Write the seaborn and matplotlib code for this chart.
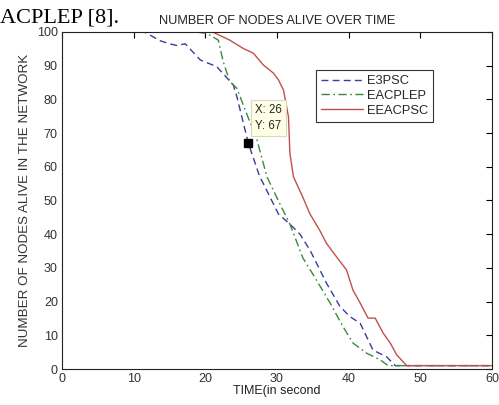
import seaborn as sns
import matplotlib
matplotlib.use("Agg")
import matplotlib.pyplot as plt
import pandas as pd

## Data
t_e3psc = [0, 11.5, 13.7, 15, 16, 17.2, 19.3, 21.6, 23.9, 24.4, 26, 27.6, 28.1, 30.2, 31.8,
           33.2, 34.6, 36.9, 38.8, 40.2, 41.6, 42.5, 43.4, 45.3, 46.5, 60]
v_e3psc = [100, 100, 97.4, 96.5, 96, 96.5, 91.7, 89.7, 84.3, 80.8, 67, 57, 55, 46, 43,
           40, 35.3, 25.5, 18.5, 15.5, 13.6, 9.6, 5.6, 3.6, 1, 1]

t_eacplep = [0, 18.6, 20.2, 21.8, 22.5, 23.4, 24.4, 25.3, 26.2, 27.2, 28.6, 30.4, 31.8,
             33.6, 35.5, 37.4, 39.2, 40.6, 42.5, 44.4, 45.5, 60]
v_eacplep = [100, 100, 99.6, 97.6, 91.2, 85.3, 83.3, 78.3, 73.4, 68, 57, 49, 43,
             33, 26.4, 19.6, 12.6, 7.7, 4.7, 2.7, 1, 1]

t_eeacpsc = [0, 21, 23.4, 25.3, 26.7, 28.1, 29.5, 30.2, 30.9, 31.6, 31.8, 32.3, 33.6, 34.6,
             36, 36.9, 38.3, 39.7, 40.6, 41.6, 42.7, 43.7, 44.8, 45.8, 46.7, 48.1, 60]
v_eeacpsc = [100, 100, 97.6, 95.1, 93.7, 90.2, 87.8, 85.8, 82.8, 74.9, 64, 57, 51, 46,
             41, 37.3, 33.3, 29.4, 23.4, 19.6, 15.1, 15.1, 10.7, 7.7, 4.2, 1, 1]

tip_x, tip_y = 26, 67

## Long dataframe for seaborn
df = pd.concat([
    pd.DataFrame({'time': t_e3psc, 'alive': v_e3psc, 'protocol': 'E3PSC'}),
    pd.DataFrame({'time': t_eacplep, 'alive': v_eacplep, 'protocol': 'EACPLEP'}),
    pd.DataFrame({'time': t_eeacpsc, 'alive': v_eeacpsc, 'protocol': 'EEACPSC'}),
], ignore_index=True)

colors = {'E3PSC': '#3c3c9c', 'EACPLEP': '#3a8a3a', 'EEACPSC': '#c0504d'}
dashes = {'E3PSC': (5, 3), 'EACPLEP': (6, 2.5, 1.2, 2.5), 'EEACPSC': ''}

sns.set_style("white")
plt.rcParams['font.family'] = ['Liberation Sans', 'DejaVu Sans']

fig = plt.figure(figsize=(4.99, 4.05), dpi=100)
ax = fig.add_axes([62 / 499, 36 / 405, 430 / 499, 337 / 405])

sns.lineplot(data=df, x='time', y='alive', hue='protocol', style='protocol',
             palette=colors, dashes=dashes, estimator=None, sort=False,
             linewidth=1.0, ax=ax)

# data tip
ax.plot([tip_x], [tip_y], marker='s', color='black', markersize=6, zorder=5)
ax.annotate('X: 26\nY: 67', xy=(tip_x, tip_y), xytext=(5, 8), textcoords='offset points',
            fontsize=8.3, ha='left', va='bottom', linespacing=1.45,
            bbox=dict(boxstyle='square,pad=0.35', fc='#ffffe6', ec='#d8d8c0', lw=0.8))

ax.set_xlim(0, 60)
ax.set_ylim(0, 100)
ax.set_xticks(range(0, 61, 10))
ax.set_yticks(range(0, 101, 10))
ax.tick_params(direction='in', top=True, right=True, labelsize=9, length=4,
               width=0.8, color='black', labelcolor='#333333', pad=3)
for s in ax.spines.values():
    s.set_color('#222222')
    s.set_linewidth(0.8)

ax.set_title('NUMBER OF NODES ALIVE OVER TIME', fontsize=9.2, color='#222222', pad=6)
ax.set_xlabel('TIME(in second', fontsize=9, color='#222222', labelpad=0)
ax.set_ylabel('NUMBER OF NODES ALIVE IN THE NETWORK', fontsize=9.6, color='#333333', labelpad=4)

leg = ax.legend(loc='upper right', bbox_to_anchor=(0.863, 0.887), fontsize=9.3,
                frameon=True, fancybox=False, handlelength=3.2, borderpad=0.4,
                labelspacing=0.2, handletextpad=0.3, borderaxespad=0)
leg.get_frame().set_edgecolor('black')
leg.get_frame().set_linewidth(0.8)

# cropped caption text from the page above the chart
fig.text(0.0, 1 - 22 / 405, 'ACPLEP [8].', fontsize=16, family=['Liberation Serif'],
         ha='left', va='baseline', color='black')

fig.savefig('out.png', dpi=100, facecolor='white')
